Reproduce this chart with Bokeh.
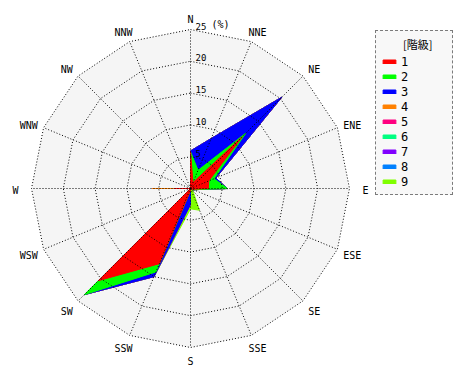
import numpy as np
from bokeh.plotting import figure
from bokeh.models import Range1d, Legend, LegendItem
from bokeh.core.properties import value
from bokeh.embed import file_html
from bokeh.resources import INLINE

# ---------------- data ----------------
directions = ["N", "NNE", "NE", "ENE", "E", "ESE", "SE", "SSE",
              "S", "SSW", "SW", "WSW", "W", "WNW", "NW", "NNW"]
classes = ["1", "2", "3", "4", "5", "6", "7", "8", "9"]
class_colors = ["#ff0000", "#00ff00", "#0000ff", "#ff8000", "#ff0080",
                "#00ff80", "#8000ff", "#0080ff", "#80ff00"]

# frequency (%) of each class, per direction (N, NNE, ... NNW)
class1 = [5.8, 1.0, 11.5, 3.1, 2.8, 0.3, 0.0, 0.0, 0.3, 12.8, 20.5, 0.0, 2.6, 0.0, 0.0, 0.0]
class2 = [0.0, 2.1, 0.8, 0.9, 3.0, 0.2, 0.0, 0.0, 0.0, 1.4, 3.1, 0.0, 0.0, 0.0, 0.0, 0.0]
class3 = [0.1, 5.4, 8.0, 0.3, 0.0, 0.0, 0.0, 0.0, 2.2, 0.8, 0.0, 0.0, 0.0, 0.0, 0.0, 0.0]
class4 = [0.0, 0.0, 0.0, 0.0, 0.0, 0.0, 0.0, 0.0, 0.0, 0.0, 0.0, 0.0, 3.4, 0.0, 0.0, 0.0]
class5 = [0.0] * 16
class6 = [0.0] * 16
class7 = [0.0] * 16
class8 = [0.0] * 16
class9 = [0.0, 0.0, 0.0, 0.0, 0.0, 0.0, 0.5, 3.7, 0.7, 0.0, 0.0, 0.0, 0.0, 0.0, 0.0, 0.0]

ring_levels = [5, 10, 15, 20, 25]
unit_label = "(%)"
legend_title = "\u3000\u3000[階級]"

# ---------------- geometry ----------------
W, H = 462, 372
PX = 6.36            # pixels per percent
CX, CY = 190, 188    # center in frame pixels (from left / top)
RMAX = 25

p = figure(width=W, height=H, output_backend="svg", toolbar_location=None,
           x_range=Range1d(-CX / PX, (W - CX) / PX),
           y_range=Range1d(-(H - CY) / PX, CY / PX),
           min_border=0)
p.axis.visible = False
p.grid.visible = False
p.outline_line_color = None
p.background_fill_color = "white"
p.border_fill_color = "white"

theta = np.deg2rad(np.arange(16) * 22.5)
sin_t, cos_t = np.sin(theta), np.cos(theta)

# background disc (16-gon)
p.patch(list(RMAX * sin_t), list(RMAX * cos_t), fill_color="#f5f5f5", line_color=None)

# stacked polygons (outermost cumulative first)
data = np.array([class1, class2, class3, class4, class5, class6, class7, class8, class9])
cum = np.cumsum(data, axis=0)
renderers = []
for k in range(len(classes) - 1, -1, -1):
    r = cum[k]
    rend = p.patch(list(r * sin_t), list(r * cos_t), fill_color=class_colors[k],
                   line_color=class_colors[k], line_width=1)
    renderers.append((k, rend))
renderers.sort()

# grid rings
for lvl in ring_levels:
    xs = list(lvl * sin_t) + [lvl * sin_t[0]]
    ys = list(lvl * cos_t) + [lvl * cos_t[0]]
    p.line(xs, ys, line_color="black", line_width=1, line_dash="1 2")

# spokes
p.segment(x0=[0] * 16, y0=[0] * 16, x1=list(RMAX * sin_t), y1=list(RMAX * cos_t),
          line_color="black", line_width=1, line_dash="1 2")

# ring labels
p.text(x=[5 / PX] * len(ring_levels), y=ring_levels, text=[str(v) for v in ring_levels],
       text_font=value("DejaVu Sans Mono"), text_font_size="9px",
       text_align="left", text_baseline="bottom", text_color="black")
p.text(x=[21 / PX], y=[RMAX], text=[unit_label],
       text_font=value("DejaVu Sans Mono"), text_font_size="10px",
       text_align="left", text_baseline="bottom", text_color="black")

# direction labels
RLX, RLY = 175 / PX, 171 / PX
p.text(x=list(RLX * sin_t), y=list(RLY * cos_t - 2 / PX), text=directions,
       text_font=value("DejaVu Sans Mono"), text_font_size="10px",
       text_align="center", text_baseline="middle", text_color="black")

# legend
items = [LegendItem(label=classes[k], renderers=[rend]) for k, rend in renderers]
legend = Legend(items=items, location=(375, H - 195), title=legend_title,
                title_text_font="Noto Sans CJK JP", title_text_font_size="11px",
                title_text_font_style="normal", title_text_color="black",
                label_text_font="DejaVu Sans Mono", label_text_font_size="12px",
                label_text_color="black",
                glyph_width=16, glyph_height=5, label_height=15, label_width=46,
                label_standoff=4, spacing=0, padding=5, margin=0, title_standoff=2,
                border_line_color="black", border_line_dash="1 1", border_line_width=1,
                background_fill_color="#f8f8f8", background_fill_alpha=1.0)
p.add_layout(legend)

open("out.html", "w").write(file_html(p, INLINE))
